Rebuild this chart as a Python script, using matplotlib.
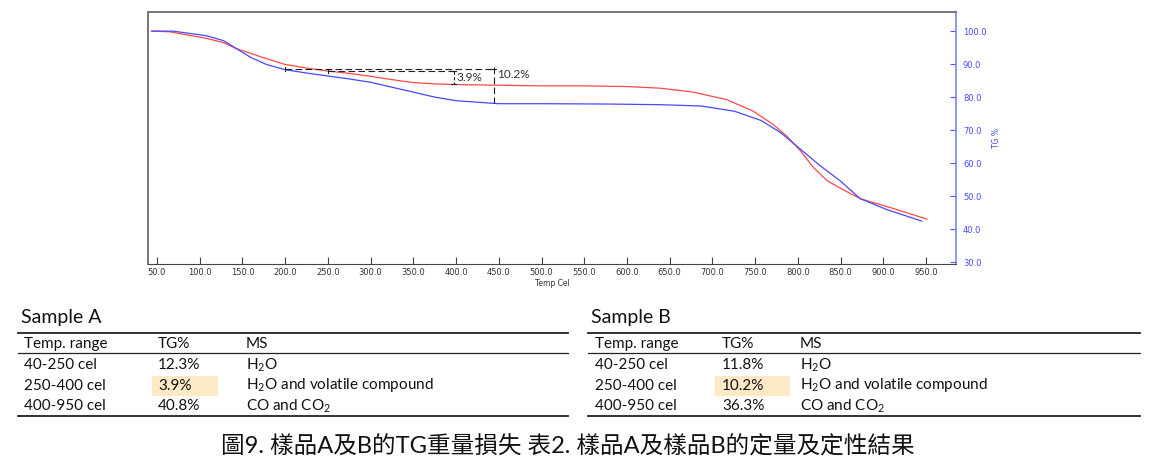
import matplotlib.pyplot as plt
import numpy as np
from matplotlib.patches import Rectangle

plt.rcParams['mathtext.fontset'] = 'custom'
plt.rcParams['mathtext.rm'] = 'Lato'

# TG curves (temperature in cel, TG in %)
temp_a = [44, 65, 108, 128, 143, 160, 180, 200, 225, 250, 275, 300, 325, 350, 375, 400,
          450, 500, 550, 600, 639, 678, 717, 748, 771, 787, 803, 818, 834, 853, 873, 912, 951]
tg_a = [100.0, 99.8, 97.8, 96.5, 94.7, 93.2, 91.5, 89.9, 88.8, 87.9, 87.2, 86.3, 85.3, 84.4, 84.0, 83.8,
        83.6, 83.4, 83.4, 83.2, 82.7, 81.5, 79.2, 75.7, 71.7, 68.2, 63.7, 58.7, 54.7, 51.9, 49.2, 46.2, 43.0]

temp_b = [44, 69, 108, 128, 143, 160, 178, 200, 225, 250, 275, 300, 325, 350, 375, 400,
          450, 500, 576, 639, 687, 726, 757, 780, 803, 826, 849, 873, 904, 945]
tg_b = [100.0, 100.0, 98.6, 97.1, 94.7, 92.0, 89.9, 88.3, 87.3, 86.4, 85.5, 84.5, 83.0, 81.5, 80.0, 78.9,
        78.0, 78.0, 77.9, 77.7, 77.3, 75.7, 72.9, 69.2, 64.2, 59.2, 54.7, 49.2, 45.9, 42.4]

step_a = (250, 397)
step_b = (200, 444)
step_a_label = "3.9%"
step_b_label = "10.2%"

x_ticks = np.arange(50, 951, 50)
y_ticks = np.arange(30, 101, 10)

# tables
columns = ["Temp. range", "TG%", "MS"]
ranges = ["40-250 cel", "250-400 cel", "400-950 cel"]
ms = [r"H$_2$O", r"H$_2$O and volatile compound", r"CO and CO$_2$"]
tg_table_a = ["12.3%", "3.9%", "40.8%"]
tg_table_b = ["11.8%", "10.2%", "36.3%"]
highlight_row = 1

caption = "圖9. 樣品A及B的TG重量損失 表2. 樣品A及樣品B的定量及定性結果"

W, H = 1160, 476
fig = plt.figure(figsize=(W / 100, H / 100), dpi=100)

ax = fig.add_axes([148 / W, 1 - 264 / H, (956 - 148) / W, (264 - 12) / H])
ax.plot(temp_a, tg_a, color="#ff4848", lw=0.9)
ax.plot(temp_b, tg_b, color="#4848ff", lw=0.9)

# step annotations
top_b = np.interp(step_b[0], temp_b, tg_b) + 0.2
top_a = np.interp(step_a[0], temp_a, tg_a)
end_a = np.interp(step_a[1], temp_a, tg_a)
end_b = np.interp(step_b[1], temp_b, tg_b)
dash = dict(color="#222222", lw=0.8, ls=(0, (6, 3)))
ax.plot([step_b[0], step_b[1]], [top_b, top_b], **dash)
ax.plot([step_a[0], step_a[1]], [top_a, top_a], **dash)
ax.plot([step_b[1], step_b[1]], [top_b + 0.6, end_b], **dash)
ax.plot([step_a[1], step_a[1]], [top_a, end_a], color="#222222", lw=0.8, ls=(0, (3, 2)))
for xv, yv in [(step_b[0], top_b), (step_a[0], top_a)]:
    ax.plot([xv, xv], [yv - 0.7, yv + 0.7], color="#222222", lw=0.8)
for xv, yv in [(step_a[1], top_a), (step_a[1], end_a), (step_b[1], top_b)]:
    ax.plot([xv - 3, xv + 3], [yv, yv], color="#222222", lw=0.8)
ax.text(step_a[1] + 4, (top_a + end_a) / 2, step_a_label, fontsize=8.5,
        color="#333333", va="center", ha="left", family="Lato")
ax.text(step_b[1] + 4, top_b - 1.8, step_b_label, fontsize=8.5,
        color="#333333", va="center", ha="left", family="Lato")

ax.set_xlim(39.5, 985)
ax.set_ylim(29.4, 105.8)
ax.set_xticks(x_ticks)
ax.set_xticklabels([f"{v:.1f}" for v in x_ticks])
ax.set_yticks(y_ticks)
ax.set_yticklabels([f"{v:.1f}" for v in y_ticks])
ax.yaxis.tick_right()
ax.yaxis.set_label_position("right")
ax.tick_params(axis="x", direction="in", length=5, width=0.8, color="#444444",
               labelsize=6, labelcolor="#333333", pad=3)
ax.tick_params(axis="y", direction="in", length=4, width=0.8, color="#5555ff",
               labelsize=6, labelcolor="#4848ff", pad=5)
ax.set_xlabel("Temp Cel", fontsize=5.5, color="#333333", labelpad=1)
ax.set_ylabel("TG %", fontsize=5.5, color="#4848ff", labelpad=4)
for side in ["top", "left"]:
    ax.spines[side].set_color("#777777")
    ax.spines[side].set_linewidth(1.4)
ax.spines["bottom"].set_color("#444444")
ax.spines["bottom"].set_linewidth(0.8)
ax.spines["right"].set_color("#8080ff")
ax.spines["right"].set_linewidth(1.2)

# overlay in pixel coordinates for tables and caption
ov = fig.add_axes([0, 0, 1, 1])
ov.set_xlim(0, W)
ov.set_ylim(H, 0)
ov.axis("off")
ov.patch.set_alpha(0)


def draw_table(x0, x1, title, tg_vals, col_x, hl):
    fs = 11
    ov.text(x0 + 3, 317, title, fontsize=14, family="Lato", va="center", ha="left", color="#111111")
    ov.plot([x0, x1], [333, 333], color="#222222", lw=1.3)
    ov.plot([x0, x1], [353, 353], color="#222222", lw=0.9)
    ov.plot([x0, x1], [416, 416], color="#222222", lw=1.3)
    for c, name in enumerate(columns):
        ov.text(col_x[c], 344, name, fontsize=fs, family="Lato", va="center", color="#111111")
    row_y = [365, 385.5, 406]
    ov.add_patch(Rectangle((hl[0], row_y[highlight_row] - 10), hl[1] - hl[0], 20,
                           color="#fde9c6", lw=0))
    for r in range(len(ranges)):
        ov.text(col_x[0], row_y[r], ranges[r], fontsize=fs, family="Lato", va="center", color="#111111")
        ov.text(col_x[1], row_y[r], tg_vals[r], fontsize=fs, family="Lato", va="center", color="#111111")
        ov.text(col_x[2], row_y[r], ms[r], fontsize=fs, family="Lato", va="center", color="#111111")


draw_table(18, 568, "Sample A", tg_table_a, [24, 158, 246], (152, 218))
draw_table(588, 1140, "Sample B", tg_table_b, [595, 722, 800], (715, 790))

ov.text(568, 446, caption, fontsize=17, family=["Lato", "Noto Sans CJK TC"],
        va="center", ha="center", color="#111111")

fig.savefig("out.png", dpi=100)
